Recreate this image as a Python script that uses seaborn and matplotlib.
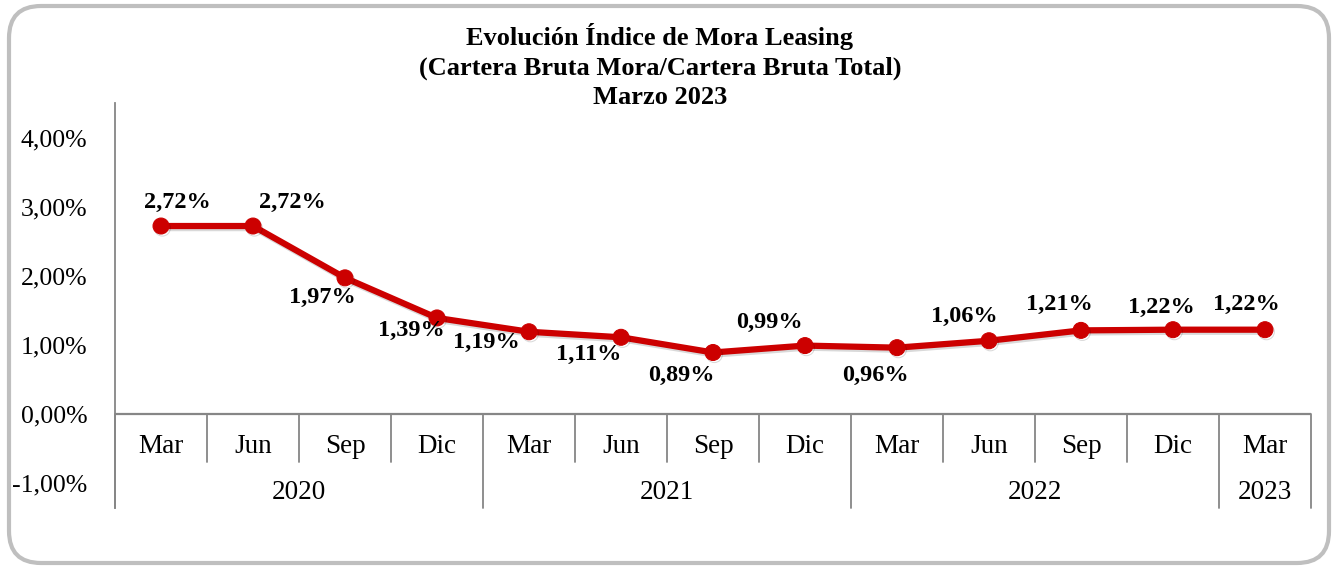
import numpy as np
import pandas as pd
import matplotlib
matplotlib.use("Agg")
import matplotlib.pyplot as plt
import matplotlib.patheffects as pe
from matplotlib.patches import FancyBboxPatch
import seaborn as sns

# ---- data ----
months = ["Mar", "Jun", "Sep", "Dic", "Mar", "Jun", "Sep", "Dic",
          "Mar", "Jun", "Sep", "Dic", "Mar"]
years = ["2020", "2021", "2022", "2023"]
year_counts = [4, 4, 4, 1]
values = [2.72, 2.72, 1.97, 1.39, 1.19, 1.11, 0.89, 0.99,
          0.96, 1.06, 1.21, 1.22, 1.22]
value_labels = ["2,72%", "2,72%", "1,97%", "1,39%", "1,19%", "1,11%", "0,89%",
                "0,99%", "0,96%", "1,06%", "1,21%", "1,22%", "1,22%"]
yticks = [-1, 0, 1, 2, 3, 4]
ytick_labels = ["-1,00%", "0,00%", "1,00%", "2,00%", "3,00%", "4,00%"]
title_lines = ["Evolución Índice de Mora Leasing",
               "(Cartera Bruta Mora/Cartera Bruta Total)",
               "Marzo 2023"]

# label offsets in pixels (dx right, dy down)
label_offsets = [(16, -24), (39, -24), (-23, 20), (-26, 13), (-43, 11), (-32, 17),
                 (-32, 23), (-36, -23), (-22, 28), (-25, -24), (-22, -26),
                 (-12, -22), (-19, -25)]

sns.set_theme(style="white")
plt.rcParams['font.family'] = ['Liberation Serif', 'DejaVu Serif']

W, H = 1335, 570
fig = plt.figure(figsize=(W / 100, H / 100), dpi=100)
fig.patch.set_facecolor("white")

# background axes for rounded border
bg = fig.add_axes([0, 0, 1, 1], zorder=0)
bg.set_xlim(0, W)
bg.set_ylim(H, 0)
bg.axis("off")
bg.add_patch(FancyBboxPatch((9, 6), 1320, 557,
                            boxstyle="round,pad=0,rounding_size=32",
                            facecolor="white", edgecolor="#BFBFBF", linewidth=3.0))

# title
for txt, ypx in zip(title_lines, [37, 68, 98]):
    fig.text(660 / W, 1 - ypx / H, txt, ha="center", va="center",
             fontsize=19, fontweight="bold", color="black")

# main axes
left_px, right_px, top_px, bot_px = 115, 1311, 103, 508
ax = fig.add_axes([left_px / W, 1 - bot_px / H, (right_px - left_px) / W,
                   (bot_px - top_px) / H], zorder=1)
ax.patch.set_alpha(0)

df = pd.DataFrame({"x": np.arange(len(values)), "y": values})
red = "#CC0000"
sns.lineplot(data=df, x="x", y="y", ax=ax, color=red, linewidth=4.5,
             marker="o", markersize=11.5, markeredgecolor=red,
             markerfacecolor=red, zorder=5,
             path_effects=[pe.SimpleLineShadow(offset=(1, -1.5), shadow_color="black",
                                               alpha=0.15),
                           pe.Normal()])

ax.set_xlim(-0.5, len(values) - 0.5)
ax.set_ylim(-1.36, 4.5)
ax.set_xlabel("")
ax.set_ylabel("")
ax.set_xticks([])
ax.set_yticks(yticks)
ax.set_yticklabels(ytick_labels, fontsize=18.5, color="black")
ax.tick_params(axis="y", length=0, pad=20, labelcolor="black")
for s in ["top", "right", "bottom"]:
    ax.spines[s].set_visible(False)
ax.spines["left"].set_color("#868686")
ax.spines["left"].set_linewidth(1.3)

gray = "#868686"
# zero line (category axis)
ax.axhline(0, color=gray, linewidth=1.6, zorder=2)

# category labels
month_y = -0.47
year_y = -1.14
sep_month_bottom = -0.69
for i, m in enumerate(months):
    ax.text(i, month_y, m, ha="center", va="center", fontsize=19.5, color="black")

year_bounds = np.concatenate([[0], np.cumsum(year_counts)])
for k, yr in enumerate(years):
    c = (year_bounds[k] + year_bounds[k + 1] - 1) / 2
    ax.text(c, year_y, yr, ha="center", va="center", fontsize=19.5, color="black")

for b in range(len(values) + 1):
    xb = b - 0.5
    if b in year_bounds:
        ax.plot([xb, xb], [0, -1.36], color=gray, linewidth=1.3, zorder=2,
                clip_on=False)
    else:
        ax.plot([xb, xb], [0, sep_month_bottom], color=gray, linewidth=1.3,
                zorder=2, clip_on=False)

# data labels
for i, (v, lab, (dx, dy)) in enumerate(zip(values, value_labels, label_offsets)):
    ax.annotate(lab, (i, v), xytext=(dx * 0.72, -dy * 0.72),
                textcoords="offset points", ha="center", va="center",
                fontsize=17.5, fontweight="bold", color="black", zorder=6)

fig.savefig("out.png", dpi=100)
